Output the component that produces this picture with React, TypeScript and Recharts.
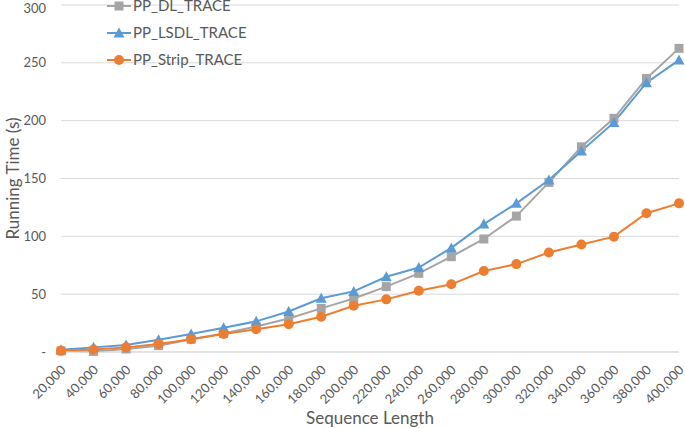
import React from 'react';
import { LineChart, CartesianGrid, XAxis, YAxis, Line, Label } from 'recharts';

const lengths = [
  20000, 40000, 60000, 80000, 100000, 120000, 140000, 160000, 180000, 200000,
  220000, 240000, 260000, 280000, 300000, 320000, 340000, 360000, 380000, 400000,
];
const dlTrace = [1, 0.5, 2.6, 5.5, 11, 16, 22, 29, 37.7, 46.2, 56.5, 68, 82.4, 97.7, 117.5, 146.6, 177.4, 202, 236.5, 262.5];
const lsdlTrace = [2, 4, 6, 10.6, 15.5, 21, 26.5, 35, 46.4, 52.4, 65, 73, 90, 110.6, 128.5, 148.7, 173.7, 198.5, 232.8, 252.4];
const stripTrace = [1, 2.2, 4, 7, 11, 15.5, 19.6, 24, 30.5, 40, 45.5, 53, 58.5, 70, 76, 86, 93, 99.7, 120, 128.5];
const yTicks = [0, 50, 100, 150, 200, 250, 300];

const data = lengths.map((len, i) => ({
  len: len.toLocaleString('en-US'),
  dl: dlTrace[i],
  lsdl: lsdlTrace[i],
  strip: stripTrace[i],
}));

const FONT = 'Lato, "Open Sans", sans-serif';
const GREY = '#A5A5A5';
const BLUE = '#5B9BD5';
const ORANGE = '#ED7D31';
const TEXT = '#595959';

const Marker = ({ kind, cx, cy, color }: { kind: string; cx: number; cy: number; color: string }) => {
  if (cx == null || cy == null) return null;
  if (kind === 'square') return <rect x={cx - 4.5} y={cy - 4.5} width={9} height={9} fill={color} />;
  if (kind === 'triangle')
    return <polygon points={`${cx},${cy - 5.5} ${cx + 5.5},${cy + 4.5} ${cx - 5.5},${cy + 4.5}`} fill={color} />;
  return <circle cx={cx} cy={cy} r={5} fill={color} />;
};

const series = [
  { key: 'dl', name: 'PP_DL_TRACE', color: GREY, kind: 'square' },
  { key: 'lsdl', name: 'PP_LSDL_TRACE', color: BLUE, kind: 'triangle' },
  { key: 'strip', name: 'PP_Strip_TRACE', color: ORANGE, kind: 'circle' },
];

const XTick = (props: any) => {
  const { x, y, payload } = props;
  return (
    <g transform={`translate(${x - 1},${y + 4})`}>
      <text textAnchor="end" transform="rotate(-45)" fontSize={13} fill={TEXT} fontFamily={FONT} dy="0.72em">
        {payload.value}
      </text>
    </g>
  );
};

const LegendBox = () => (
  <div style={{ position: 'absolute', left: 107, top: -8, fontFamily: FONT, fontSize: 15, color: TEXT, lineHeight: '27px' }}>
    {series.map((s) => (
      <div key={s.key} style={{ display: 'flex', alignItems: 'center', height: 27 }}>
        <svg width={24} height={12} style={{ marginRight: 2 }}>
          <line x1={0} y1={6} x2={24} y2={6} stroke={s.color} strokeWidth={2} />
          <Marker kind={s.kind} cx={12} cy={6} color={s.color} />
        </svg>
        <span>{s.name}</span>
      </div>
    ))}
  </div>
);

export default function App() {
  return (
    <div style={{ position: 'absolute', left: 0, top: 0, width: 685, height: 428, background: '#fff', overflow: 'hidden' }}>
      <LineChart width={685} height={428} data={data} margin={{ top: 5, right: 6, bottom: 0, left: 0 }}>
        <CartesianGrid vertical={false} stroke="#D9D9D9" strokeWidth={1} />
        <XAxis
          dataKey="len"
          interval={0}
          height={76}
          axisLine={{ stroke: '#D9D9D9' }}
          tickLine={false}
          tick={<XTick />}
        >
          <Label value="Sequence Length" position="insideBottom" offset={4} fill={TEXT} fontSize={17} fontFamily={FONT} />
        </XAxis>
        <YAxis
          width={61}
          domain={[0, 300]}
          ticks={yTicks}
          axisLine={false}
          tickLine={false}
          tickSize={0}
          tickMargin={15}
          tick={{ fill: TEXT, fontSize: 13, fontFamily: FONT }}
          tickFormatter={(v: number) => (v === 0 ? '-' : String(v))}
        >
          <Label
            value="Running Time (s)"
            angle={-90}
            position="insideLeft"
            offset={13}
            fill={TEXT}
            fontSize={17}
            fontFamily={FONT}
            style={{ textAnchor: 'middle' }}
          />
        </YAxis>
        {series.map((s) => (
          <Line
            key={s.key}
            type="linear"
            dataKey={s.key}
            name={s.name}
            stroke={s.color}
            strokeWidth={2}
            isAnimationActive={false}
            dot={(p: any) => <Marker key={`${s.key}-${p.index}`} kind={s.kind} cx={p.cx} cy={p.cy} color={s.color} />}
          />
        ))}
      </LineChart>
      <LegendBox />
    </div>
  );
}
